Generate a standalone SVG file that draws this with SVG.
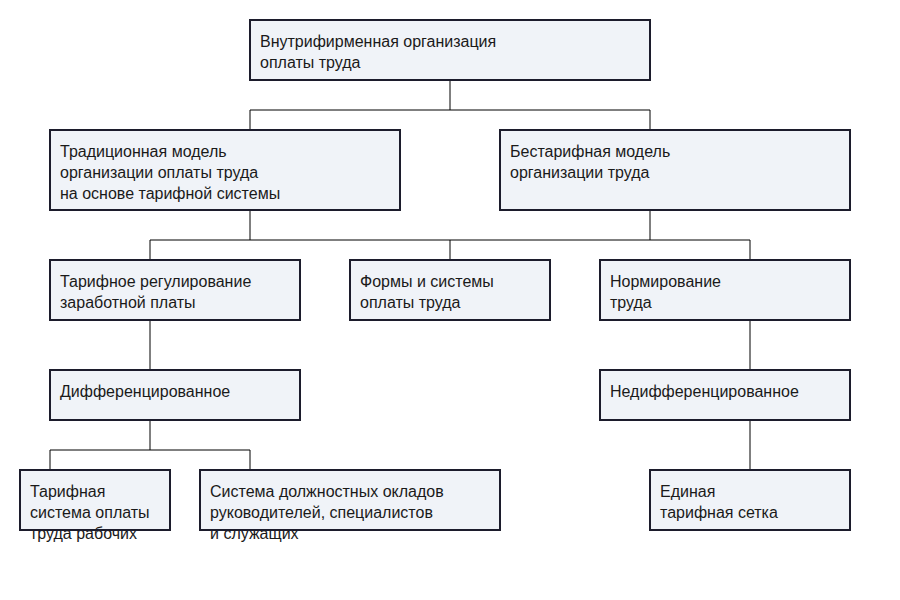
<svg xmlns="http://www.w3.org/2000/svg" width="900" height="600" viewBox="0 0 900 600">
<style>
.b{fill:#f0f3f8;stroke:none}
.o{fill:none;stroke:#1c1c2c;stroke-width:2}
text{font-family:"Liberation Sans",Arial,sans-serif;font-size:16px;fill:#1a1a1a}
#c path{fill:none;stroke:#000;stroke-width:1}
</style>
<rect width="900" height="600" fill="#fff"/>
<g id="c">
<path d="M450 80V110M250 130V110H650V130M250 210V240M650 210V240M150 260V240H750V260M450 240V260M150 320V370M750 320V370M150 420V450M50 470V450H250V470M750 420V470"/>
</g>
<g id="n1"><rect class="b" x="250" y="20" width="400" height="60"/><text x="260" y="47">Внутрифирменная организация</text><text x="260" y="68">оплаты труда</text><rect class="o" x="250" y="20" width="400" height="60"/></g>
<g id="n2"><rect class="b" x="50" y="130" width="350" height="80"/><text x="60" y="157">Традиционная модель</text><text x="60" y="178">организации оплаты труда</text><text x="60" y="199">на основе тарифной системы</text><rect class="o" x="50" y="130" width="350" height="80"/></g>
<g id="n3"><rect class="b" x="500" y="130" width="350" height="80"/><text x="510" y="157">Бестарифная модель</text><text x="510" y="178">организации труда</text><rect class="o" x="500" y="130" width="350" height="80"/></g>
<g id="n4"><rect class="b" x="50" y="260" width="250" height="60"/><text x="60" y="287">Тарифное регулирование</text><text x="60" y="308">заработной платы</text><rect class="o" x="50" y="260" width="250" height="60"/></g>
<g id="n5"><rect class="b" x="350" y="260" width="200" height="60"/><text x="360" y="287">Формы и системы</text><text x="360" y="308">оплаты труда</text><rect class="o" x="350" y="260" width="200" height="60"/></g>
<g id="n6"><rect class="b" x="600" y="260" width="250" height="60"/><text x="610" y="287">Нормирование</text><text x="610" y="308">труда</text><rect class="o" x="600" y="260" width="250" height="60"/></g>
<g id="n7"><rect class="b" x="50" y="370" width="250" height="50"/><text x="60" y="397">Дифференцированное</text><rect class="o" x="50" y="370" width="250" height="50"/></g>
<g id="n8"><rect class="b" x="600" y="370" width="250" height="50"/><text x="610" y="397">Недифференцированное</text><rect class="o" x="600" y="370" width="250" height="50"/></g>
<g id="n9"><rect class="b" x="20" y="470" width="150" height="60"/><text x="30" y="497">Тарифная</text><text x="30" y="518">система оплаты</text><text x="30" y="539">труда рабочих</text><rect class="o" x="20" y="470" width="150" height="60"/></g>
<g id="n10"><rect class="b" x="200" y="470" width="300" height="60"/><text x="210" y="497">Система должностных окладов</text><text x="210" y="518">руководителей, специалистов</text><text x="210" y="539">и служащих</text><rect class="o" x="200" y="470" width="300" height="60"/></g>
<g id="n11"><rect class="b" x="650" y="470" width="200" height="60"/><text x="660" y="497">Единая</text><text x="660" y="518">тарифная сетка</text><rect class="o" x="650" y="470" width="200" height="60"/></g>
</svg>
